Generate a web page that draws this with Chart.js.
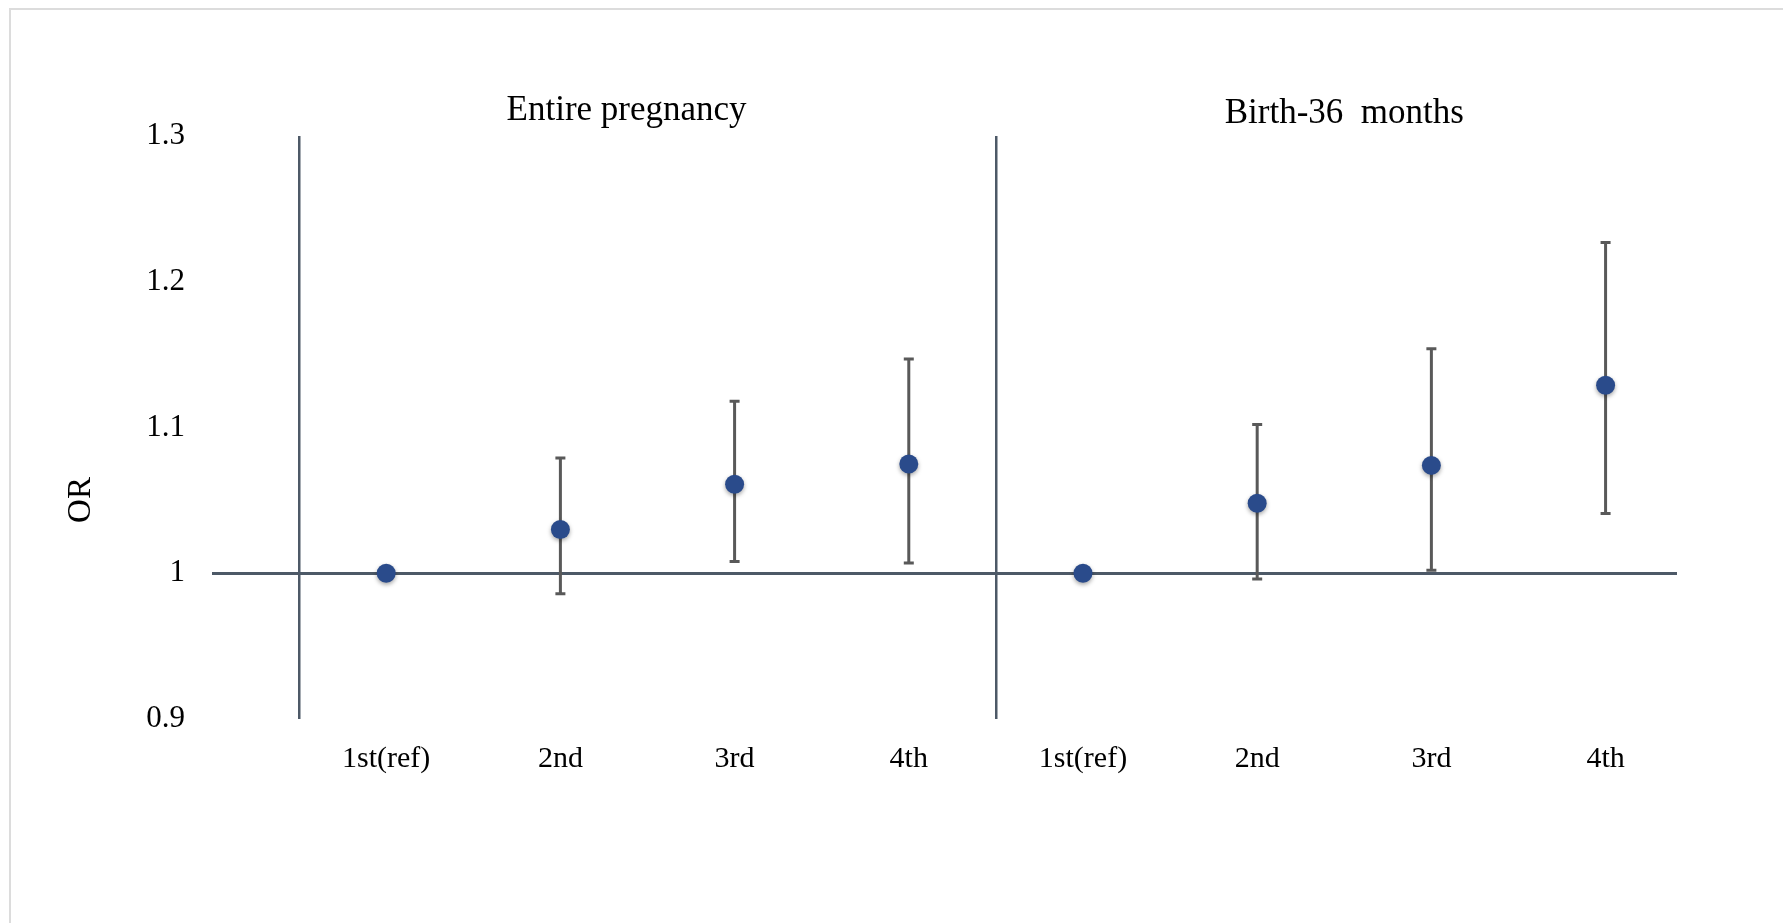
<!DOCTYPE html>
<html>
<head>
<meta charset="utf-8">
<script src="https://cdn.jsdelivr.net/npm/chart.js@4.4.0/dist/chart.umd.min.js"></script>
<style>
  html, body { margin: 0; padding: 0; background: #fff; overflow: hidden; }
  #frame { position: absolute; left: 9px; top: 8px; width: 1800px; height: 940px;
           border-left: 2px solid #dcdcdc; border-top: 2px solid #dcdcdc; }
  #wrap { position: absolute; left: 0; top: 0; width: 1783px; height: 923px; }
</style>
</head>
<body>
<div id="frame"></div>
<div id="wrap"><canvas id="orChart"></canvas></div>
<script>
// categories (x = 1..8) and panel titles
const categories = ["1st(ref)", "2nd", "3rd", "4th", "1st(ref)", "2nd", "3rd", "4th"];
const panelTitles = ["Entire pregnancy", "Birth-36  months"];

// Entire pregnancy
const pregnancyOR    = [1.000, 1.030, 1.061, 1.075];
const pregnancyLower = [null,  0.986, 1.008, 1.007];
const pregnancyUpper = [null,  1.079, 1.118, 1.147];

// Birth-36 months
const birthOR    = [1.000, 1.048, 1.074, 1.129];
const birthLower = [null,  0.996, 1.002, 1.041];
const birthUpper = [null,  1.102, 1.154, 1.227];

const yTicks = [0.9, 1.0, 1.1, 1.2, 1.3];
const panelSplits = [0.5, 4.5];

const SERIF = "'Liberation Serif', 'Times New Roman', serif";
const AXIS_COLOR = "#4d5967";
const BAR_COLOR = "#595959";
const DOT_COLOR = "#2a4b8b";

const pts = (vals, offset) => vals.map((v, i) => ({ x: i + 1 + offset, y: v }));

const errorBars = {
  id: "errorBars",
  beforeDatasetsDraw(chart) {
    const { ctx, scales: { x, y } } = chart;
    const sets = [
      [pregnancyLower, pregnancyUpper, 0],
      [birthLower, birthUpper, 4]
    ];
    ctx.save();
    ctx.strokeStyle = BAR_COLOR;
    ctx.lineWidth = 3;
    sets.forEach(([lo, hi, off]) => {
      lo.forEach((l, i) => {
        if (l == null) return;
        const px = x.getPixelForValue(i + 1 + off);
        const y1 = y.getPixelForValue(l), y2 = y.getPixelForValue(hi[i]);
        ctx.beginPath();
        ctx.moveTo(px, y1); ctx.lineTo(px, y2);
        ctx.moveTo(px - 5, y1); ctx.lineTo(px + 5, y1);
        ctx.moveTo(px - 5, y2); ctx.lineTo(px + 5, y2);
        ctx.stroke();
      });
    });
    ctx.restore();
  },
  beforeDatasetDraw(chart) {
    const ctx = chart.ctx;
    ctx.save();
    ctx.shadowColor = "rgba(0,0,0,0.35)";
    ctx.shadowBlur = 4;
    ctx.shadowOffsetY = 2;
  },
  afterDatasetDraw(chart) {
    chart.ctx.restore();
  },
  afterDraw(chart) {
    const { ctx, chartArea, scales: { x } } = chart;
    ctx.save();
    ctx.fillStyle = "#000";
    ctx.font = "35px " + SERIF;
    ctx.textAlign = "center";
    ctx.textBaseline = "alphabetic";
    ctx.fillText(panelTitles[0], x.getPixelForValue(2.38), chartArea.top - 16);
    ctx.fillText(panelTitles[1], x.getPixelForValue(6.5), chartArea.top - 13);
    ctx.font = "33px " + SERIF;
    ctx.translate(81, 500);
    ctx.rotate(-Math.PI / 2);
    ctx.textBaseline = "middle";
    ctx.fillText("OR", 0, 0);
    ctx.restore();
  }
};

new Chart(document.getElementById("orChart"), {
  type: "scatter",
  data: {
    datasets: [
      { label: panelTitles[0], data: pts(pregnancyOR, 0) },
      { label: panelTitles[1], data: pts(birthOR, 4) }
    ].map(d => Object.assign(d, {
      pointRadius: 9.5, pointHoverRadius: 9.5,
      backgroundColor: DOT_COLOR, borderColor: DOT_COLOR, borderWidth: 0
    }))
  },
  options: {
    responsive: true,
    maintainAspectRatio: false,
    animation: false,
    layout: { padding: { left: 0, top: 136, right: 106, bottom: 0 } },
    plugins: { legend: { display: false }, tooltip: { enabled: false } },
    scales: {
      x: {
        type: "linear", min: 0, max: 8.41,
        afterBuildTicks: s => { s.ticks = [0.5, 1, 2, 3, 4, 4.5, 5, 6, 7, 8].map(v => ({ value: v })); },
        afterFit: s => { s.height = 923 - 719; },
        border: { display: false },
        grid: {
          drawTicks: false,
          color: c => panelSplits.includes(c.tick.value) ? AXIS_COLOR : "rgba(0,0,0,0)",
          lineWidth: 2.5
        },
        ticks: {
          autoSkip: false, maxRotation: 0, padding: 22, color: "#000",
          font: { family: SERIF, size: 30 },
          callback: v => Number.isInteger(v) ? categories[v - 1] : ""
        }
      },
      y: {
        min: 0.9, max: 1.3,
        afterBuildTicks: s => { s.ticks = yTicks.map(v => ({ value: v })); },
        afterFit: s => { s.width = 212; },
        border: { display: false },
        grid: {
          drawTicks: false,
          color: c => c.tick.value === 1 ? AXIS_COLOR : "rgba(0,0,0,0)",
          lineWidth: 3
        },
        ticks: {
          padding: 27, color: "#000",
          font: { family: SERIF, size: 31 },
          callback: v => String(Number(v.toFixed(1)))
        }
      }
    }
  },
  plugins: [errorBars]
});
</script>
</body>
</html>
